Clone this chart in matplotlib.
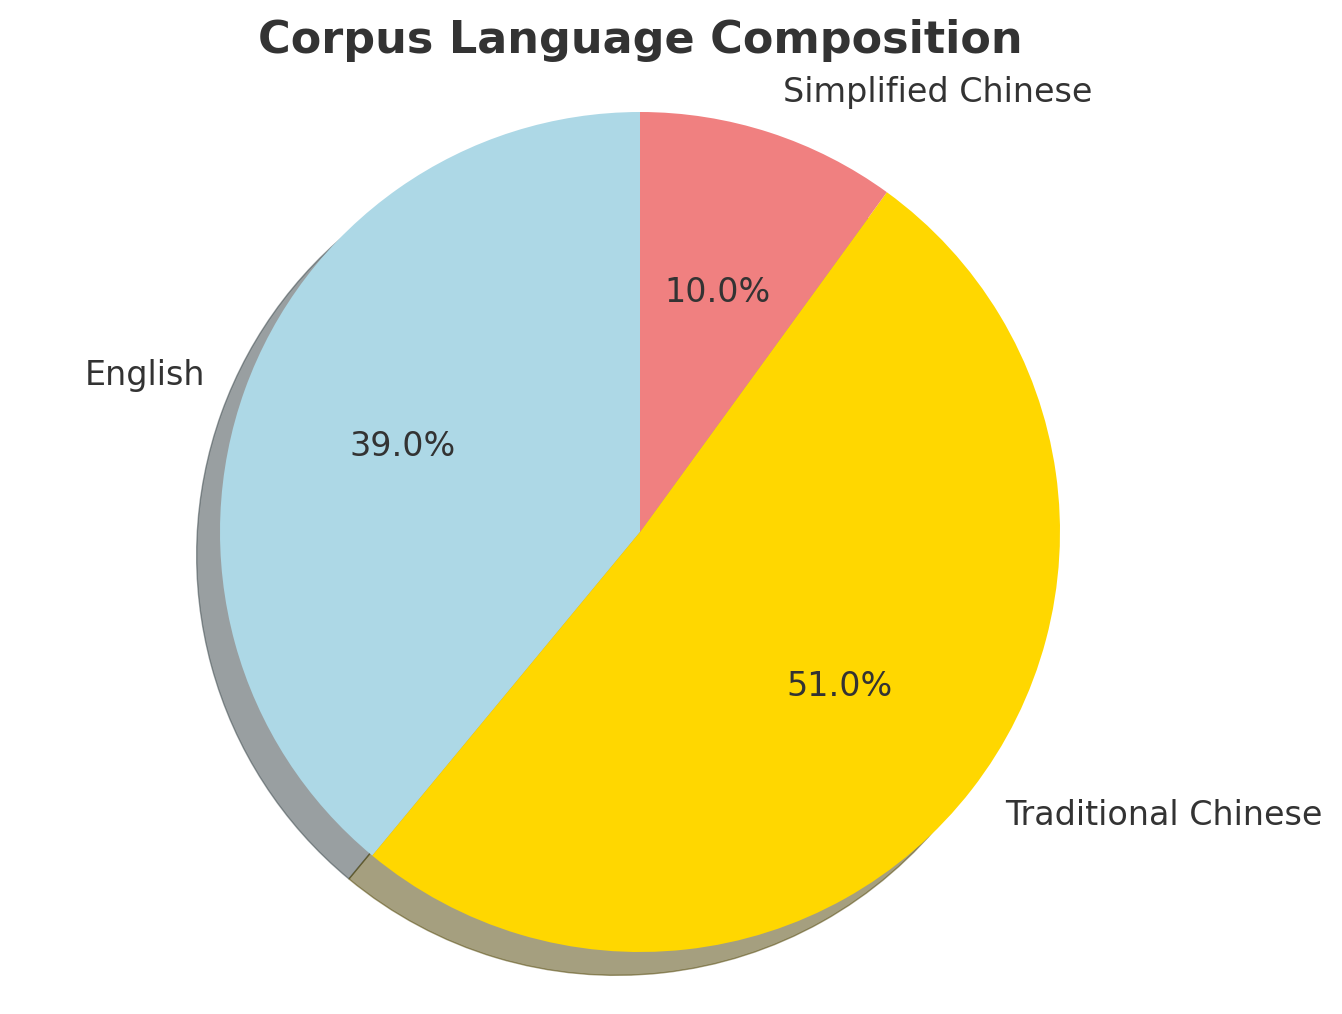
import matplotlib
matplotlib.use('Agg')
import matplotlib.pyplot as plt

labels = ['English', 'Traditional Chinese', 'Simplified Chinese']
shares = [39.0, 51.0, 10.0]
colors = ['lightblue', 'gold', 'lightcoral']

fig = plt.figure(figsize=(13.42, 10.14), dpi=100)
# square axes so that the pie has radius ~420 px centred at (640, 532)
ax = fig.add_axes([115 / 1342, -43 / 1014, 1050 / 1342, 1050 / 1014])

wedges, texts, autotexts = ax.pie(
    shares, labels=labels, colors=colors, autopct='%1.1f%%',
    startangle=90, shadow={'ox': -0.04, 'oy': -0.04},
    textprops={'fontsize': 24, 'color': '#333333'})
ax.set_xlim(-1.25, 1.25)
ax.set_ylim(-1.25, 1.25)
ax.set_aspect('equal')

fig.text(640 / 1342, 1 - 40 / 1014, 'Corpus Language Composition',
         ha='center', va='center', fontsize=32, fontweight='bold', color='#333333')

fig.savefig('out.png', dpi=100)
